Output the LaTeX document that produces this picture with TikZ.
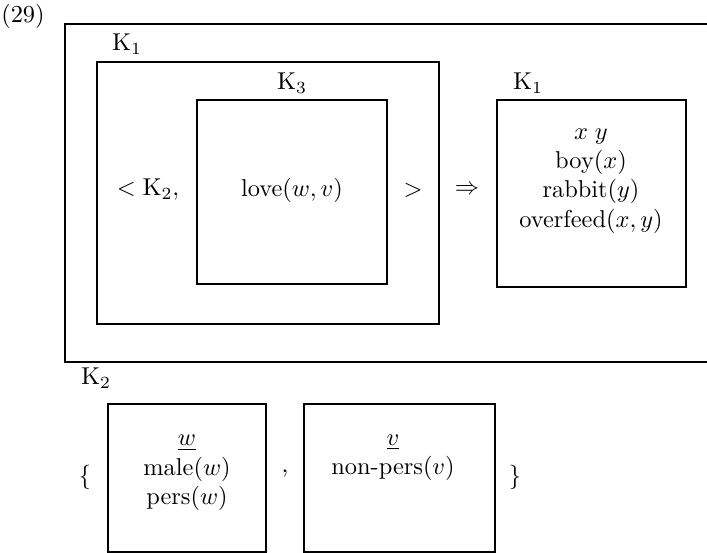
\documentclass[tikz,border=0pt]{standalone}
\begin{document}
\begin{tikzpicture}[x=0.41pt,y=-0.41pt,
  boxline/.style={line width=0.75pt},
  lbl/.style={inner sep=0pt, anchor=center},
  drs/.style={inner sep=0pt, align=center, anchor=center}]
\useasboundingbox (0,0) rectangle (707,553);
% outer box (open on the right)
\draw[boxline] (707,24) -- (65,24) -- (65,362) -- (707,362);
% middle K1 box
\draw[boxline] (97,62) rectangle (439,324);
% K3 box
\draw[boxline] (197,100) rectangle (387,284);
% right K1 box
\draw[boxline] (497,100) rectangle (686,287);
% K2 boxes
\draw[boxline] (108,404) rectangle (266,552);
\draw[boxline] (304,404) rectangle (495,552);
% labels
\node[lbl] (num) at (23,16) {(29)};
\node[lbl] (k1a) at (127,44) {$\mathrm{K}_1$};
\node[lbl] (k3) at (292,83) {$\mathrm{K}_3$};
\node[lbl] (k1b) at (528,83) {$\mathrm{K}_1$};
\node[lbl] (lt) at (148,190) {$<\mathrm{K}_2,$};
\node[lbl] (love) at (292,190) {love$(w,v)$};
\node[lbl] (gt) at (413,190) {$>$};
\node[lbl] (impl) at (467,190) {$\Rightarrow$};
\node[drs] (cons) at (591,181) {$x\;y$\\boy$(x)$\\rabbit$(y)$\\overfeed$(x,y)$};
\node[lbl] (k2) at (96,378) {$\mathrm{K}_2$};
\node[lbl] (lbr) at (85,477) {$\{$};
\node[drs] (wbox) at (187,473) {$\underline{w}$\\male$(w)$\\pers$(w)$};
\node[lbl] (comma) at (285,474) {,};
\node[drs] (vbox) at (393,458) {$\underline{v}$\\non-pers$(v)$};
\node[lbl] (rbr) at (515,477) {$\}$};
\end{tikzpicture}
\end{document}
